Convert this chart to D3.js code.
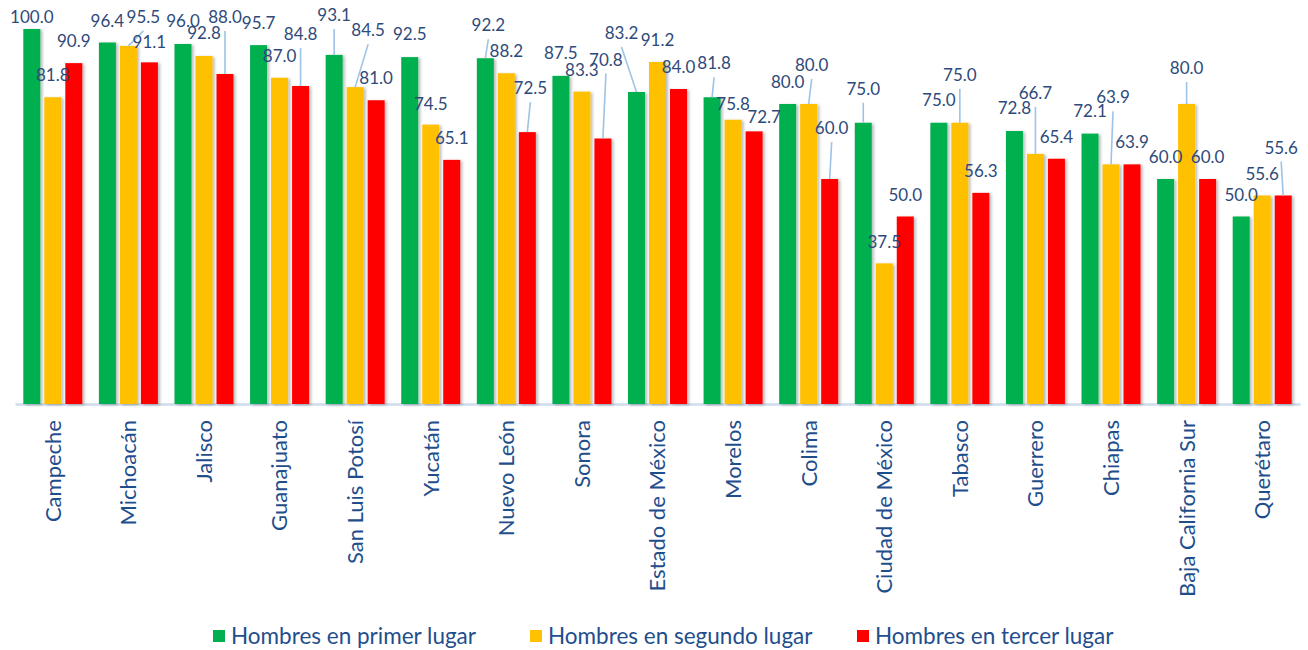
<!DOCTYPE html>
<html><head><meta charset="utf-8">
<script src="https://cdn.jsdelivr.net/npm/d3@7"></script>
<style>
html,body{margin:0;padding:0;background:#fff;}
svg{display:block;}
</style></head>
<body>
<svg id="chart" width="1308" height="650"></svg>
<script>
const categories = ["Campeche","Michoacán","Jalisco","Guanajuato","San Luis Potosí","Yucatán","Nuevo León","Sonora","Estado de México","Morelos","Colima","Ciudad de México","Tabasco","Guerrero","Chiapas","Baja California Sur","Querétaro"];
const seriesNames = ["Hombres en primer lugar","Hombres en segundo lugar","Hombres en tercer lugar"];
const primerLugar  = [100.0,96.4,96.0,95.7,93.1,92.5,92.2,87.5,83.2,81.8,80.0,75.0,75.0,72.8,72.1,60.0,50.0];
const segundoLugar = [81.8,95.5,92.8,87.0,84.5,74.5,88.2,83.3,91.2,75.8,80.0,37.5,75.0,66.7,63.9,80.0,55.6];
const tercerLugar  = [90.9,91.1,88.0,84.8,81.0,65.1,72.5,70.8,84.0,72.7,60.0,50.0,56.3,65.4,63.9,60.0,55.6];
const seriesColors = ["#00b050","#ffc000","#ff0000"];

// label nudges (dx, dy in px) relative to default position above each bar
const labelNudgePrimer  = [[0,10],[0,0],[0,-1],[0,0],[0,-18],[0,-1],[3,-11],[0,-1],[-15,-37],[2,-12],[0,0],[0,-12],[0,-1],[0,-1],[0,-1],[0,0],[0,0]];
const labelNudgeSegundo = [[0,0],[15,-7],[0,-1],[0,0],[13,-35],[0,1],[0,0],[0,0],[0,0],[0,6],[3,-17],[0,1],[0,-26],[0,-39],[2,-45],[0,-14],[0,0]];
const labelNudgeTercer  = [[0,0],[0,2],[0,-35],[0,-30],[0,0],[0,0],[3,-22],[3,-57],[0,0],[10,8],[2,-29],[0,0],[0,0],[0,0],[0,0],[0,0],[-2,-26]];

const seriesValues = [primerLugar, segundoLugar, tercerLugar];
const nudges = [labelNudgePrimer, labelNudgeSegundo, labelNudgeTercer];

const svg = d3.select("#chart");
const FONT = "Lato, 'Open Sans', 'Liberation Sans', sans-serif";

const defs = svg.append("defs");
const f = defs.append("filter").attr("id","sh").attr("x","-20%").attr("y","-5%").attr("width","150%").attr("height","115%");
f.append("feDropShadow").attr("dx",2).attr("dy",1).attr("stdDeviation",1.5).attr("flood-color","#000").attr("flood-opacity",0.28);

const x0 = d3.scaleBand().domain(categories).range([15,1300]).paddingInner(0.2195).paddingOuter(0.11);
const x1 = d3.scaleBand().domain(d3.range(3)).range([0,x0.bandwidth()]).paddingInner(4/21).paddingOuter(0);
const y = d3.scaleLinear().domain([0,100]).range([404,29]);

// axis
const xAxis = d3.axisBottom(x0).tickSize(0).tickPadding(0);
const ax = svg.append("g").attr("transform","translate(0,404)").call(xAxis);
ax.select(".domain").attr("stroke","#cfdcee").attr("stroke-width",2.5);
ax.selectAll(".tick text")
  .attr("transform","rotate(-90)")
  .attr("text-anchor","end")
  .attr("x",-16).attr("y",0).attr("dy","0.36em")
  .attr("fill","#1f4e8c")
  .style("font-family",FONT).style("font-size","22px");

// bars
const groups = svg.append("g").selectAll("g").data(categories).join("g")
  .attr("transform",d=>`translate(${x0(d)},0)`);
groups.selectAll("rect").data((c,i)=>seriesValues.map((s,k)=>({k,v:s[i]}))).join("rect")
  .attr("x",d=>x1(d.k)).attr("width",x1.bandwidth())
  .attr("y",d=>y(d.v)).attr("height",d=>y(0)-y(d.v))
  .attr("fill",d=>seriesColors[d.k]).attr("filter","url(#sh)");

// labels + leader lines
const lbl = svg.append("g");
categories.forEach((c,i)=>{
  seriesValues.forEach((s,k)=>{
    const v = s[i];
    const bx = x0(c)+x1(k)+x1.bandwidth()/2;
    const top = y(v);
    const [dx,dy] = nudges[k][i];
    const lx = bx+dx, ly = top-22+dy;
    if(dy < -5){
      lbl.append("line").attr("x1",bx).attr("y1",top).attr("x2",lx).attr("y2",ly+14)
        .attr("stroke","#9dc3e6").attr("stroke-width",1.6);
    }
    lbl.append("text").attr("x",lx).attr("y",ly).attr("dy","0.36em")
      .attr("text-anchor","middle").attr("fill","#2e4a7a")
      .style("font-family",FONT).style("font-size","17px")
      .text(d3.format(".1f")(v));
  });
});

// legend
const legendX = [213,530,857];
const lg = svg.append("g");
seriesNames.forEach((n,k)=>{
  lg.append("rect").attr("x",legendX[k]).attr("y",630).attr("width",12).attr("height",12).attr("fill",seriesColors[k]);
  lg.append("text").attr("x",legendX[k]+18).attr("y",636).attr("dy","0.36em")
    .attr("fill","#1f4e8c").style("font-family",FONT).style("font-size","22.5px").text(n);
});
</script>
</body></html>
